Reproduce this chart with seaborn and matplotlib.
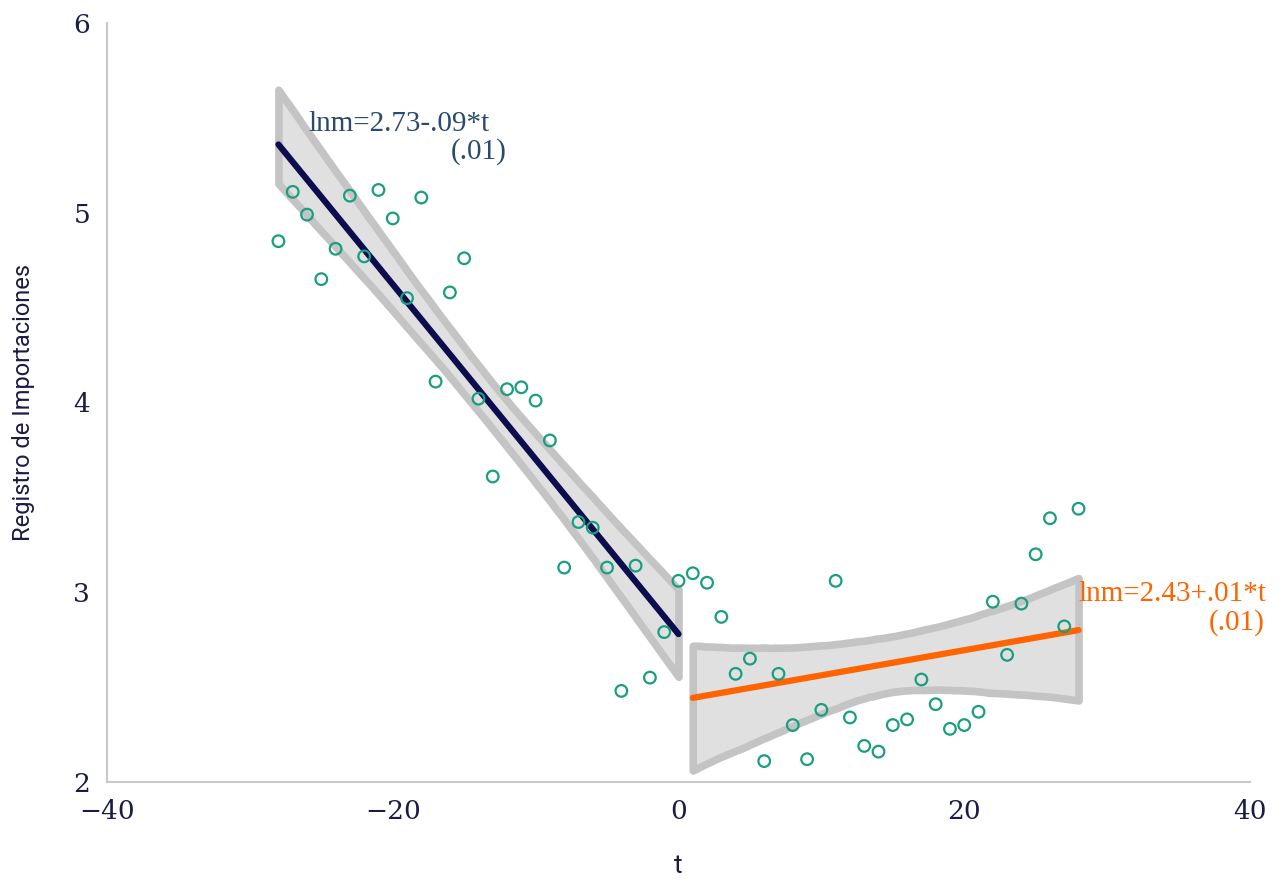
import numpy as np
import pandas as pd
import matplotlib
matplotlib.use('Agg')
import matplotlib.pyplot as plt
import seaborn as sns

# datos
t = list(range(-28, 29))
lnm = [4.85, 5.11, 4.99, 4.65, 4.81, 5.09, 4.77, 5.12, 4.97, 4.55,
       5.08, 4.11, 4.58, 4.76, 4.02, 3.61, 4.07, 4.08, 4.01, 3.80,
       3.13, 3.37, 3.34, 3.13, 2.48, 3.14, 2.55, 2.79, 3.06,
       3.10, 3.05, 2.87, 2.57, 2.65, 2.11, 2.57, 2.30, 2.12, 2.38,
       3.06, 2.34, 2.19, 2.16, 2.30, 2.33, 2.54, 2.41, 2.28, 2.30,
       2.37, 2.95, 2.67, 2.94, 3.20, 3.39, 2.82, 3.44]
periodo = ['antes' if v <= 0 else 'despues' for v in t]

df = pd.DataFrame({'t': t, 'lnm': lnm, 'periodo': periodo})
antes = df[df['periodo'] == 'antes']
despues = df[df['periodo'] == 'despues']

sns.set_style('white')
plt.rcParams['font.family'] = ['DejaVu Serif']

navy = '#1b1b45'
fig = plt.figure(figsize=(12.86, 8.84), dpi=100)
ax = fig.add_axes([0.0832, 0.1154, 0.8888, 0.8586])

# rectas con intervalos de confianza
sns.regplot(x='t', y='lnm', data=antes, scatter=False, ci=95, n_boot=4000, seed=3, ax=ax,
            color='#e0e0e0', line_kws={'color': '#0c0c4e', 'lw': 4.5, 'zorder': 3})
sns.regplot(x='t', y='lnm', data=despues, scatter=False, ci=95, n_boot=4000, seed=3, ax=ax,
            color='#e0e0e0', line_kws={'color': '#ff6400', 'lw': 4.5, 'zorder': 3})
for coll in ax.collections:
    coll.set_facecolor('#e0e0e0')
    coll.set_edgecolor('#c4c4c4')
    coll.set_linewidth(5.5)
    coll.set_alpha(1)
    coll.set_zorder(1)

# puntos
sns.scatterplot(x='t', y='lnm', data=df, ax=ax, marker='o', s=70,
                facecolors='none', edgecolor='#1a9e80', linewidth=1.6, zorder=4)

# ecuaciones
eq_font = ['Liberation Serif', 'DejaVu Serif']
ax.text(-25.9, 5.47, 'lnm=2.73-.09*t', color='#2a4a6e', fontsize=21, family=eq_font,
        ha='left', va='center')
ax.text(-12.0, 5.32, '(.01)', color='#2a4a6e', fontsize=21, family=eq_font,
        ha='right', va='center')
ax.text(28.0, 2.99, 'lnm=2.43+.01*t', color='#ff6400', fontsize=21, family=eq_font,
        ha='left', va='center')
ax.text(41.0, 2.84, '(.01)', color='#ff6400', fontsize=21, family=eq_font,
        ha='right', va='center')

ax.set_xlim(-40, 40)
ax.set_ylim(2, 6)
ax.set_xticks([-40, -20, 0, 20, 40])
ax.set_yticks([2, 3, 4, 5, 6])
ax.tick_params(axis='both', direction='out', length=7, width=1.2, color='#c8c8c8',
               labelcolor=navy, labelsize=19, pad=5)
for s in ['top', 'right']:
    ax.spines[s].set_visible(False)
for s in ['left', 'bottom']:
    ax.spines[s].set_color('#c8c8c8')
    ax.spines[s].set_linewidth(1.5)

ax.set_xlabel('t', fontsize=19, color=navy, family=['Roboto', 'DejaVu Sans'], labelpad=22)
ax.set_ylabel('Registro de Importaciones', fontsize=17, color=navy,
              family=['Roboto', 'DejaVu Sans'], labelpad=28)

fig.savefig('out.png', dpi=100)
